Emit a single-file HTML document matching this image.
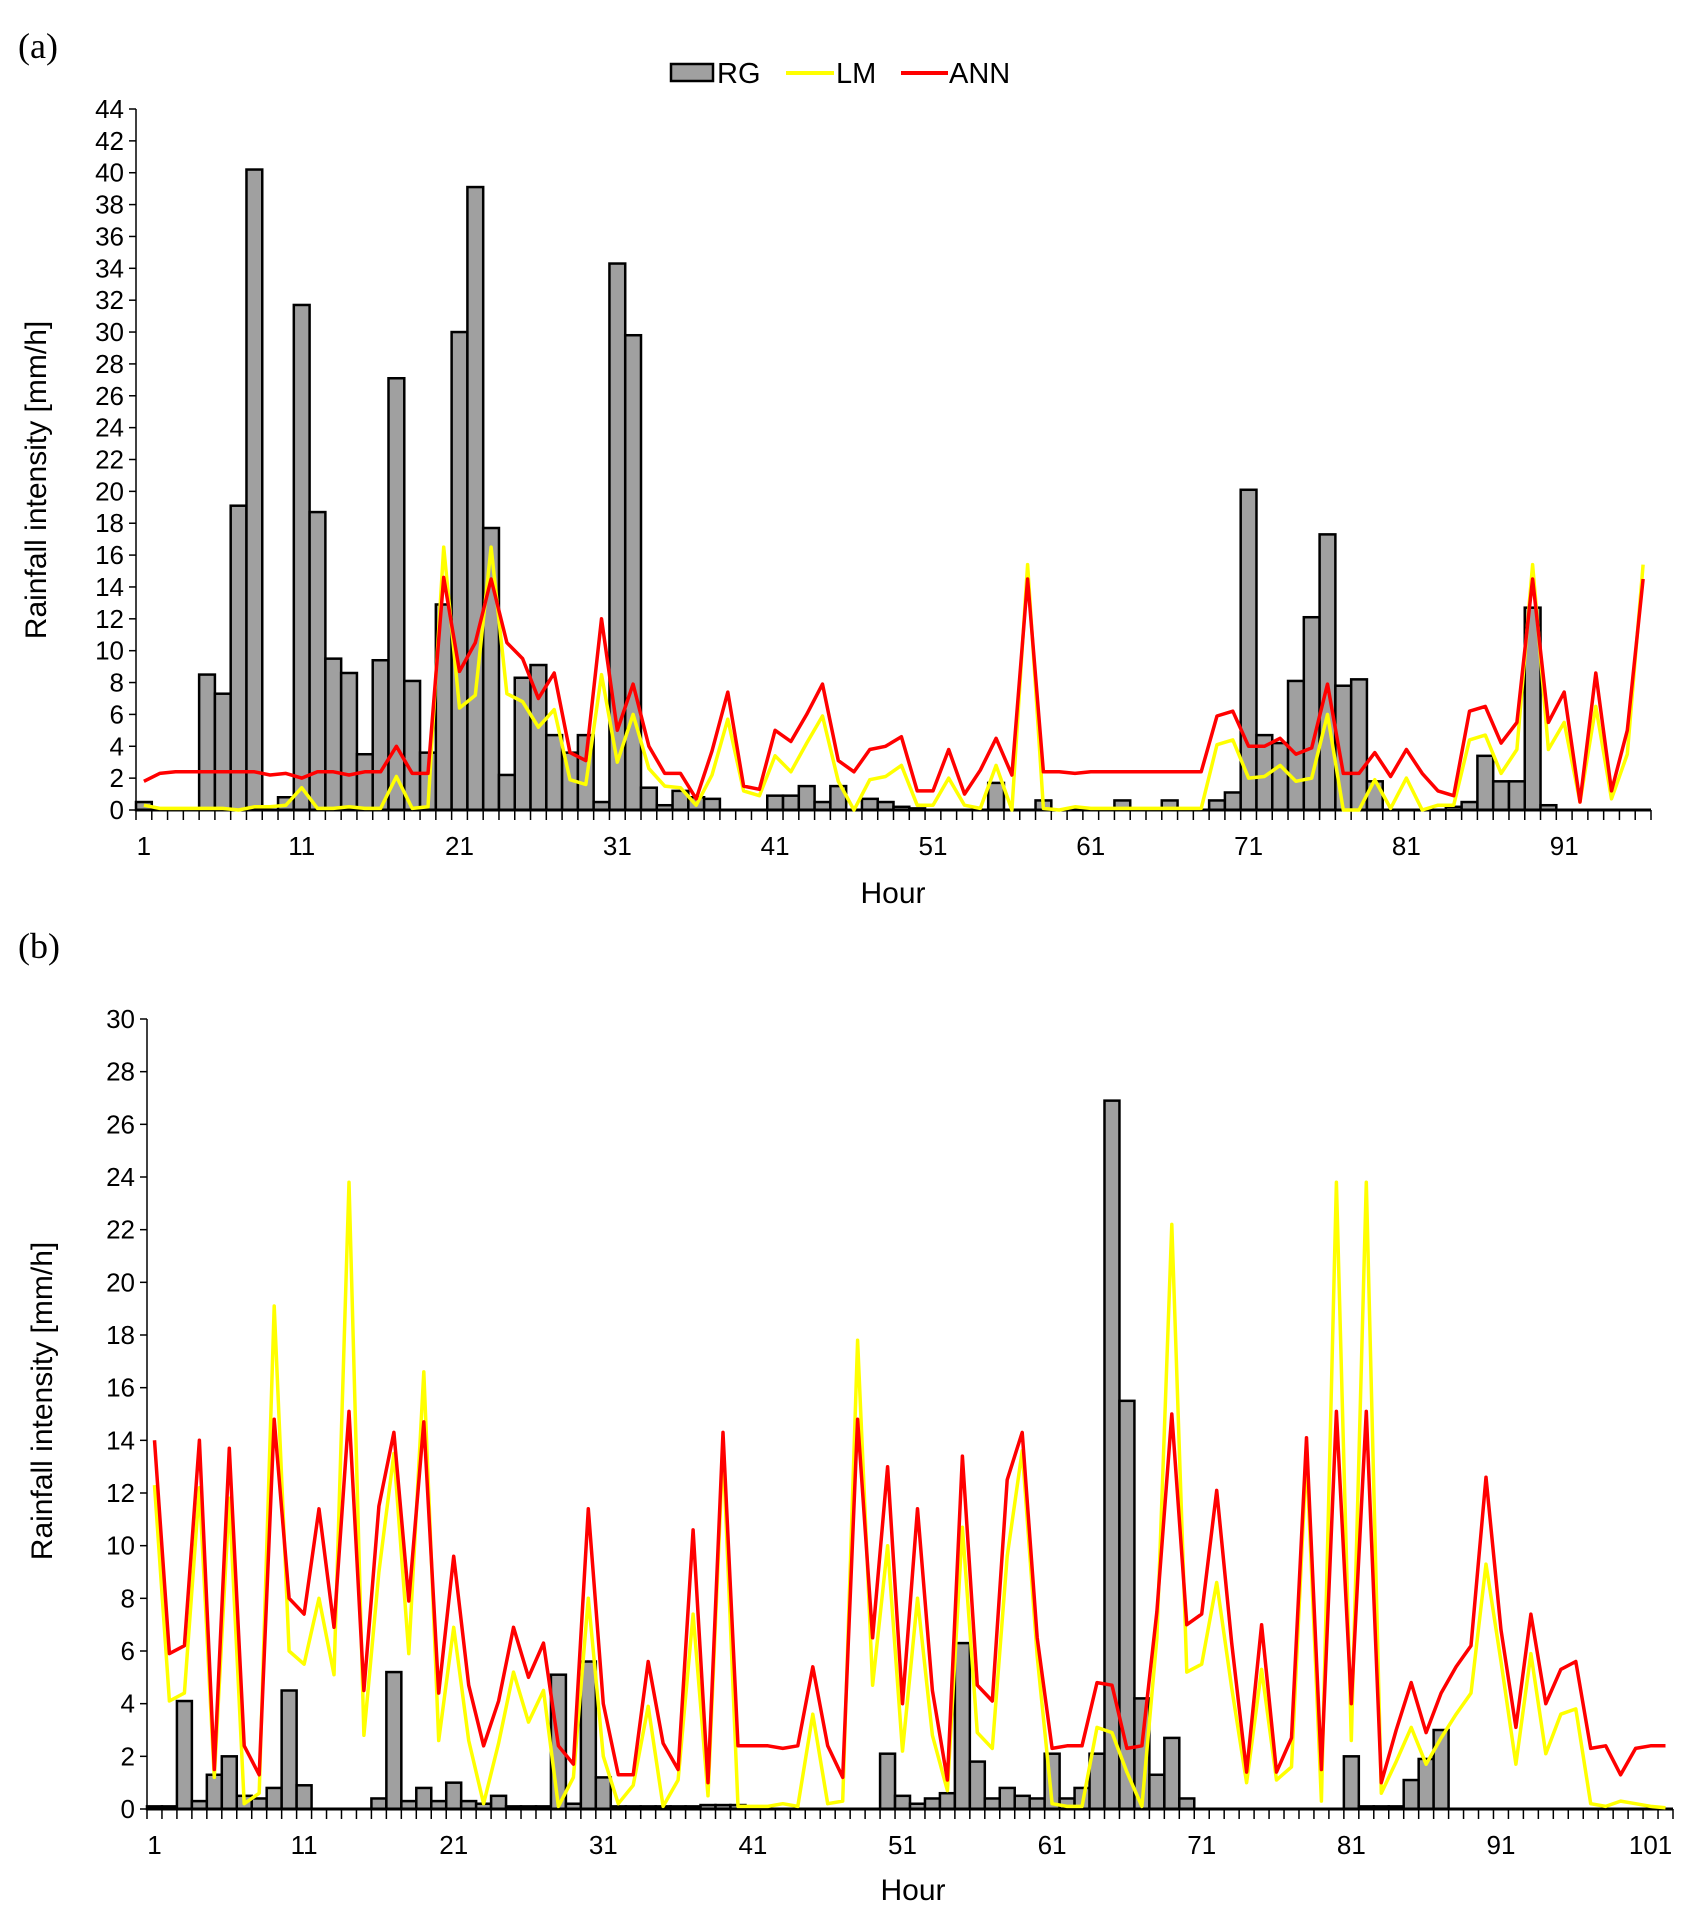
<!DOCTYPE html>
<html><head><meta charset="utf-8">
<style>
html,body{margin:0;padding:0;background:#fff;}
svg{display:block;font-family:"Liberation Sans",Arial,sans-serif;}
</style></head>
<body>
<svg id="chart" width="1702" height="1927" viewBox="0 0 1702 1927" xmlns="http://www.w3.org/2000/svg">
<text x="18" y="58" font-family="Liberation Serif, serif" font-size="36">(a)</text>
<text x="18" y="958" font-family="Liberation Serif, serif" font-size="36">(b)</text>
<g>
  <rect x="671" y="64" width="42" height="17" fill="#a0a0a0" stroke="#000" stroke-width="2.5"/>
  <text x="717" y="83" font-size="29">RG</text>
  <line x1="786" y1="73" x2="834" y2="73" stroke="#ffff00" stroke-width="4"/>
  <text x="836" y="83" font-size="29">LM</text>
  <line x1="901" y1="73" x2="948" y2="73" stroke="#ff0000" stroke-width="4"/>
  <text x="949" y="83" font-size="29">ANN</text>
</g>
<g id="pa"></g>
<g id="pb"></g>
</svg>
<script>
const rgA=[0.5,0,0,0,8.5,7.3,19.1,40.2,0,0.8,31.7,18.7,9.5,8.6,3.5,9.4,27.1,8.1,3.6,12.9,30,39.1,17.7,2.2,8.3,9.1,4.7,3.6,4.7,0.5,34.3,29.8,1.4,0.3,1.2,0.8,0.7,0,0,0,0.9,0.9,1.5,0.5,1.5,0,0.7,0.5,0.2,0.1,0,0,0,0,1.7,0,0,0.6,0,0,0,0,0.6,0,0,0.6,0,0,0.6,1.1,20.1,4.7,4.2,8.1,12.1,17.3,7.8,8.2,1.8,0,0,0,0,0.2,0.5,3.4,1.8,1.8,12.7,0.3,0,0,0,0,0,0];
const lmA=[0.3,0.1,0.1,0.1,0.1,0.1,0,0.2,0.2,0.3,1.4,0.1,0.1,0.2,0.1,0.1,2.1,0.1,0.2,16.5,6.4,7.2,16.5,7.3,6.8,5.2,6.3,1.9,1.6,8.5,3.0,6.0,2.6,1.5,1.4,0.3,2.2,5.7,1.2,0.9,3.4,2.4,4.2,5.9,1.8,0,1.9,2.1,2.8,0.3,0.3,2.0,0.3,0.1,2.8,0,15.4,0.1,0,0.2,0.1,0.1,0.1,0.1,0.1,0.1,0.1,0.1,4.1,4.4,2.0,2.1,2.8,1.8,2.0,6.0,0,0,1.9,0.1,2.0,0,0.3,0.3,4.4,4.7,2.3,3.8,15.4,3.8,5.5,0.5,6.5,0.7,3.5,15.4];
const annA=[1.8,2.3,2.4,2.4,2.4,2.4,2.4,2.4,2.2,2.3,2.0,2.4,2.4,2.2,2.4,2.4,4.0,2.3,2.3,14.6,8.7,10.5,14.5,10.5,9.5,7.0,8.6,3.6,3.1,12.0,5.0,7.9,4.0,2.3,2.3,0.7,3.7,7.4,1.5,1.3,5.0,4.3,6.0,7.9,3.1,2.4,3.8,4.0,4.6,1.2,1.2,3.8,1.0,2.5,4.5,2.2,14.5,2.4,2.4,2.3,2.4,2.4,2.4,2.4,2.4,2.4,2.4,2.4,5.9,6.2,4.0,4.0,4.5,3.5,3.9,7.9,2.3,2.3,3.6,2.1,3.8,2.3,1.2,0.9,6.2,6.5,4.2,5.5,14.5,5.5,7.4,0.5,8.6,1.2,5.0,14.5];
const ticksA=[0,2,4,6,8,10,12,14,16,18,20,22,24,26,28,30,32,34,36,38,40,42,44];
const rgB=[0.1,0.1,4.1,0.3,1.3,2.0,0.5,0.4,0.8,4.5,0.9,0,0,0,0,0.4,5.2,0.3,0.8,0.3,1.0,0.3,0.2,0.5,0.1,0.1,0.1,5.1,0.2,5.6,1.2,0.1,0.1,0.1,0.1,0.1,0.1,0.15,0.15,0.15,0,0,0,0,0,0,0,0,0,2.1,0.5,0.2,0.4,0.6,6.3,1.8,0.4,0.8,0.5,0.4,2.1,0.4,0.8,2.1,26.9,15.5,4.2,1.3,2.7,0.4,0,0,0,0,0,0,0,0,0,0,2.0,0.1,0.1,0.1,1.1,1.9,3.0,0,0,0,0,0,0,0,0,0,0,0,0,0,0,0];
const lmB=[12.3,4.1,4.4,12.2,1.2,11.8,0.2,0.6,19.1,6,5.5,8,5.1,23.8,2.8,9,13.5,5.9,16.6,2.6,6.9,2.6,0.2,2.5,5.2,3.3,4.5,0.1,1.2,8,2,0.2,0.9,3.9,0.1,1.1,7.4,0.5,13.7,0.1,0.1,0.1,0.2,0.1,3.6,0.2,0.3,17.8,4.7,10,2.2,8,2.8,0.7,10.7,2.9,2.3,9.6,13.6,5.8,0.2,0.1,0.1,3.1,2.9,1.4,0.1,6.5,22.2,5.2,5.5,8.6,4.6,1,5.3,1.1,1.6,13.5,0.3,23.8,2.6,23.8,0.6,1.8,3.1,1.7,2.7,3.6,4.4,9.3,5.6,1.7,5.9,2.1,3.6,3.8,0.2,0.1,0.3,0.2,0.1,0.05];
const annB=[14,5.9,6.2,14,1.5,13.7,2.4,1.3,14.8,8,7.4,11.4,6.9,15.1,4.5,11.5,14.3,7.9,14.7,4.4,9.6,4.7,2.4,4.1,6.9,5,6.3,2.4,1.7,11.4,4,1.3,1.3,5.6,2.5,1.5,10.6,1,14.3,2.4,2.4,2.4,2.3,2.4,5.4,2.4,1.2,14.8,6.5,13,4,11.4,4.5,1.1,13.4,4.7,4.1,12.5,14.3,6.5,2.3,2.4,2.4,4.8,4.7,2.3,2.4,7.5,15,7,7.4,12.1,6.3,1.4,7,1.4,2.7,14.1,1.5,15.1,4,15.1,1,3,4.8,2.9,4.4,5.4,6.2,12.6,6.8,3.1,7.4,4,5.3,5.6,2.3,2.4,1.3,2.3,2.4,2.4];
const ticksB=[0,2,4,6,8,10,12,14,16,18,20,22,24,26,28,30];

const NS='http://www.w3.org/2000/svg';
function mk(parent,tag,attrs){const e=document.createElementNS(NS,tag);for(const k in attrs)e.setAttribute(k,attrs[k]);parent.appendChild(e);return e;}

function drawChart(g,cfg,rg,lm,ann,ticks){
  const n=rg.length, step=(cfg.right-cfg.left)/n;
  const x=i=>cfg.left+(i+0.5)*step;
  const y=v=>cfg.y0-(v/cfg.ymax)*(cfg.y0-cfg.ytop);
  // bars
  for(let i=0;i<n;i++){
    if(rg[i]<=0) continue;
    const r=mk(g,'rect',{x:cfg.left+i*step,y:y(rg[i]),width:step,height:cfg.y0-y(rg[i]),fill:'#a0a0a0',stroke:'#000','stroke-width':2.5});
    
    
  }
  // axes
  const ya=mk(g,'line',{x1:cfg.left,y1:cfg.ytop,x2:cfg.left,y2:cfg.y0,stroke:'#000','stroke-width':1.5});
  
  
  const xa=mk(g,'line',{x1:cfg.left,y1:cfg.y0,x2:cfg.right,y2:cfg.y0,stroke:'#000','stroke-width':3});
  
  
  ticks.forEach(t=>{
    const tl=mk(g,'line',{x1:cfg.left-7,y1:y(t),x2:cfg.left,y2:y(t),stroke:'#000','stroke-width':1.5});
    
    
    const tx=mk(g,'text',{x:cfg.left-12,y:y(t)+9,'font-size':26,'text-anchor':'end'});
    tx.textContent=t;
    
    
  });
  for(let i=0;i<=n;i++){
    const xx=cfg.left+i*step;
    const tk=mk(g,'line',{x1:xx,y1:cfg.y0,x2:xx,y2:cfg.y0+10,stroke:'#000','stroke-width':1.5});
    
    
  }
  for(let h=1;h<=n;h+=10){
    const tx=mk(g,'text',{x:x(h-1),y:cfg.y0+45,'font-size':26,'text-anchor':'middle'});
    tx.textContent=h;
    
    
  }
  // lines
  const path=arr=>arr.map((v,i)=>(i?'L':'M')+x(i).toFixed(1)+' '+y(v).toFixed(1)).join(' ');
  const l1=mk(g,'path',{d:path(lm),fill:'none',stroke:'#ffff00','stroke-width':3.5,'stroke-linejoin':'round'});
  
  
  const l2=mk(g,'path',{d:path(ann),fill:'none',stroke:'#ff0000','stroke-width':3.5,'stroke-linejoin':'round'});
  
  
  const xt=mk(g,'text',{x:cfg.hourX,y:cfg.hourY,'font-size':30,'text-anchor':'middle'});
  xt.textContent='Hour';
  
  
  const yt=mk(g,'text',{x:0,y:0,'font-size':30,'text-anchor':'middle',transform:`translate(${cfg.ytX},${cfg.ytY}) rotate(-90)`});
  yt.textContent='Rainfall intensity [mm/h]';
  
  
}
drawChart(document.getElementById('pa'),{left:136,right:1651,y0:810,ytop:109,ymax:44,hourX:893,hourY:903,ytX:46,ytY:480},rgA,lmA,annA,ticksA);
drawChart(document.getElementById('pb'),{left:147,right:1673,y0:1809,ytop:1019,ymax:30,hourX:913,hourY:1900,ytX:52,ytY:1401},rgB,lmB,annB,ticksB);
</script>
</body></html>
